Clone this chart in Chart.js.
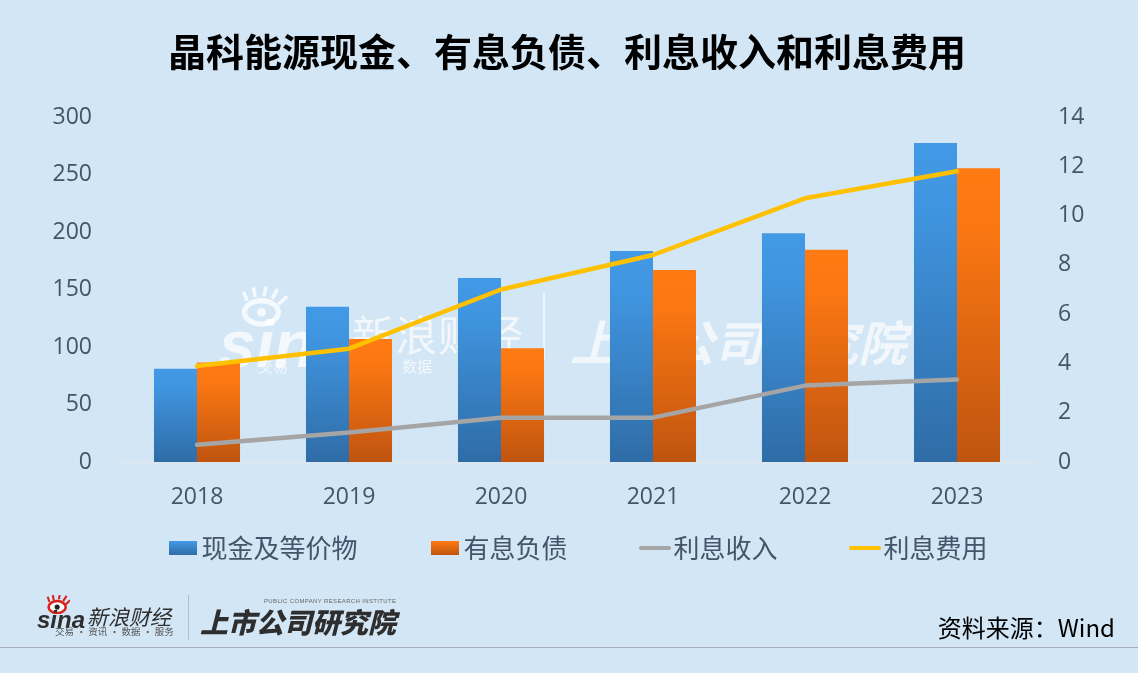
<!DOCTYPE html>
<html>
<head>
<meta charset="utf-8">
<script src="https://cdn.jsdelivr.net/npm/chart.js@4"></script>
<style>
  html, body { margin: 0; padding: 0; background: #d2e6f5; }
  body { width: 1138px; height: 673px; position: relative; overflow: hidden; font-family: "Noto Sans CJK SC", sans-serif; }
  canvas { position: absolute; left: 0; top: 0; }
  .t { position: absolute; white-space: nowrap; line-height: 1; }
  .mark { color: rgba(255,255,255,0.72); }
  .logo { color: #2e2e2e; }
  .rule { position: absolute; }
</style>
</head>
<body>
<!-- watermark, sits behind the chart -->
<svg class="rule" style="left:240px;top:286px" width="50" height="42" viewBox="0 0 56 46">
  <ellipse cx="24" cy="29" rx="19" ry="13" fill="none" stroke="#fff" stroke-opacity=".75" stroke-width="6"/>
  <circle cx="24" cy="29" r="5" fill="#fff" fill-opacity=".75"/>
  <path d="M8 16 L4 6 M17 12 L15 1 M27 11 L29 0 M36 14 L42 3 M43 20 L53 11" stroke="#fff" stroke-opacity=".75" stroke-width="4"/>
</svg>
<div class="t mark" style="left:219px;top:306px;font:italic bold 66px 'Liberation Sans'">sina</div>
<div class="t mark" style="left:352px;top:312px;font-size:42px;letter-spacing:1px">新浪财经</div>
<div class="t mark" style="left:258px;top:358px;font-size:15px">交易</div>
<div class="t mark" style="left:402px;top:358px;font-size:15px">数据</div>
<div class="rule" style="left:543px;top:292px;width:2px;height:68px;background:rgba(255,255,255,.6)"></div>
<div class="t mark" style="left:570px;top:316px;font-size:48px;font-weight:700;font-style:italic">上市公司研究院</div>

<canvas id="chart" width="1138" height="673"></canvas>

<!-- footer -->
<svg class="rule" style="left:46px;top:595px" width="24" height="19" viewBox="0 0 28 22">
  <ellipse cx="13" cy="14" rx="10" ry="7" fill="#fff" stroke="#d8231c" stroke-width="3"/>
  <circle cx="13" cy="14" r="3" fill="#222"/>
  <path d="M4 8 L2 2 M9 6 L8 0 M15 5 L16 0 M20 7 L24 1 M23 11 L28 6" stroke="#d8231c" stroke-width="2.4"/>
</svg>
<div class="t logo" style="left:37px;top:606px;font:italic bold 24px 'Liberation Sans'">sina</div>
<div class="t logo" style="left:87px;top:606px;font-size:21px;font-style:italic">新浪财经</div>
<div class="t logo" style="left:55px;top:627px;font-size:9.5px;letter-spacing:.1px;color:#555">交易 · 资讯 · 数据 · 服务</div>
<div class="rule" style="left:188px;top:595px;width:1px;height:45px;background:#b4bcc4"></div>
<div class="t logo" style="left:200px;top:607px;font-size:28px;font-weight:900;font-style:italic">上市公司研究院</div>
<div class="t" style="left:264px;top:598px;font:6px 'Liberation Sans';letter-spacing:.35px;color:#666">PUBLIC COMPANY RESEARCH INSTITUTE</div>
<div class="t" style="right:23px;top:615px;font-size:24px;color:#000">资料来源：Wind</div>
<div class="rule" style="left:0;top:647px;width:1138px;height:1px;background:#a6adb8"></div>

<script>
const chartTitle = "晶科能源现金、有息负债、利息收入和利息费用";
const years = ["2018", "2019", "2020", "2021", "2022", "2023"];
const cash = [81, 135, 160, 183.5, 199, 277.5];
const debt = [86.5, 107, 99, 167, 184.5, 255.5];
const interestIncome = [0.7, 1.2, 1.8, 1.8, 3.1, 3.35];
const interestExpense = [3.9, 4.6, 7.0, 8.4, 10.7, 11.8];

const textColor = "#44546a";
const axisFont = { family: "'Open Sans'", size: 23 };

// gradient runs over each bar's own height
function barFill(top, mid, bottom) {
  return c => {
    const chart = c.chart;
    if (!chart.chartArea || c.raw === undefined) return top;
    const y = chart.scales.y;
    const g = chart.ctx.createLinearGradient(0, y.getPixelForValue(c.raw), 0, y.getPixelForValue(0));
    g.addColorStop(0, top);
    g.addColorStop(0.2, mid);
    g.addColorStop(1, bottom);
    return g;
  };
}

function swatch(top, bottom) {
  const cv = document.createElement("canvas");
  cv.width = 28;
  cv.height = 14;
  const x = cv.getContext("2d");
  const g = x.createLinearGradient(0, 0, 0, 14);
  g.addColorStop(0, top);
  g.addColorStop(1, bottom);
  x.fillStyle = g;
  x.fillRect(0, 0, 28, 14);
  return cv;
}

function dash(color) {
  const cv = document.createElement("canvas");
  cv.width = 32;
  cv.height = 14;
  const x = cv.getContext("2d");
  x.strokeStyle = color;
  x.lineWidth = 4;
  x.lineCap = "round";
  x.beginPath();
  x.moveTo(2, 7);
  x.lineTo(30, 7);
  x.stroke();
  return cv;
}

// legend sits off-centre from the title and closer to the axis than its padding allows
const moveLegend = {
  id: "moveLegend",
  afterLayout(chart) {
    chart.legend.left += 15.5;
    chart.legend.right += 15.5;
    chart.legend.top = 453;
  }
};

new Chart(document.getElementById("chart"), {
  type: "bar",
  data: {
    labels: years,
    datasets: [
      { label: "现金及等价物", data: cash, yAxisID: "y", order: 2,
        backgroundColor: barFill("#4299e5", "#4095e0", "#2f6ca6"), pointStyle: swatch("#4299e5", "#2f6ca6") },
      { label: "有息负债", data: debt, yAxisID: "y", order: 2,
        backgroundColor: barFill("#ff7a12", "#fb7712", "#bf5410"), pointStyle: swatch("#ff7a12", "#bf5410") },
      { type: "line", label: "利息收入", data: interestIncome, yAxisID: "y1", order: 1,
        borderColor: "#a5a5a5", backgroundColor: "#a5a5a5", borderWidth: 4.5, pointRadius: 0,
        borderCapStyle: "round", borderJoinStyle: "round", pointStyle: dash("#a5a5a5") },
      { type: "line", label: "利息费用", data: interestExpense, yAxisID: "y1", order: 1,
        borderColor: "#ffc000", backgroundColor: "#ffc000", borderWidth: 4.5, pointRadius: 0,
        borderCapStyle: "round", borderJoinStyle: "round", pointStyle: dash("#ffc000") }
    ]
  },
  plugins: [moveLegend],
  options: {
    responsive: false,
    animation: false,
    layout: { padding: { left: 0, right: 4, top: 0, bottom: 43 } },
    datasets: { bar: { categoryPercentage: 0.566, barPercentage: 1 } },
    scales: {
      x: {
        offset: true,
        grid: { display: false },
        border: { color: "#dfe6ec", width: 2 },
        ticks: { color: textColor, font: axisFont, padding: 14, maxRotation: 0, autoSkip: false },
        afterFit: s => { s.height = 50; }
      },
      y: {
        position: "left",
        min: 0,
        max: 300,
        grid: { display: false, drawTicks: false },
        border: { display: false },
        ticks: { stepSize: 50, color: textColor, font: axisFont, padding: 29 },
        afterFit: s => { s.width = 121; }
      },
      y1: {
        position: "right",
        min: 0,
        max: 14,
        grid: { display: false, drawTicks: false },
        border: { display: false },
        ticks: { stepSize: 2, color: textColor, font: axisFont, padding: 25 },
        afterFit: s => { s.width = 101; }
      }
    },
    plugins: {
      title: {
        display: true,
        text: chartTitle,
        color: "#000",
        font: { family: "'Noto Sans CJK SC'", size: 38, weight: "bold" },
        padding: { top: 29, bottom: 42.4 }
      },
      legend: {
        position: "bottom",
        labels: {
          usePointStyle: true,
          pointStyleWidth: 11,
          padding: 82,
          color: textColor,
          font: { family: "'Noto Sans CJK SC'", size: 26 },
          sort: (a, b) => a.datasetIndex - b.datasetIndex
        }
      },
      tooltip: { enabled: false }
    }
  }
});
</script>
</body>
</html>
